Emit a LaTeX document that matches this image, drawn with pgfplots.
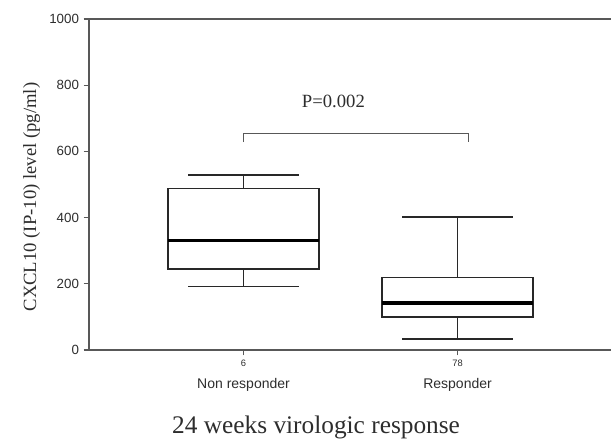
\documentclass[border=0pt]{standalone}
\usepackage{fontspec}
\setmainfont{Liberation Serif}
\setsansfont{Liberation Sans}
\usepackage{pgfplots}
\pgfplotsset{compat=1.18}
\definecolor{axisgray}{RGB}{88,88,88}
\definecolor{txtgray}{RGB}{45,45,45}
\definecolor{boxline}{RGB}{40,40,40}

\begin{document}
\begin{tikzpicture}
\begin{axis}[
  name=ax,
  scale only axis,
  width=391.5pt, height=248.25pt,
  xmin=0.278, xmax=2.717,
  ymin=0, ymax=1000,
  axis x line=box, axis y line=left,
  axis line style={-, draw=axisgray, line width=1.3pt},
  ytick={0,200,400,600,800,1000},
  yticklabels={0,200,400,600,800,1000},
  xtick={1,2}, xticklabels={6,78},
  xtick pos=left, ytick pos=left,
  tick align=outside,
  major tick length=4pt,
  tick style={draw=axisgray, line width=1pt},
  yticklabel style={font=\sffamily\fontsize{10}{12}\selectfont, text=txtgray},
  xticklabel style={font=\sffamily\fontsize{7}{8}\selectfont, text=txtgray},
  ylabel={CXCL10 (IP-10) level (pg/ml)},
  ylabel style={at={(ticklabel cs:0.462)}, font=\fontsize{14}{16}\selectfont, text=txtgray},
  clip=false,
  boxs/.style={draw=boxline, line width=0.9pt, line cap=rect, line join=miter, mark=none},
  med/.style={draw=black, line width=2.4pt, mark=none},
]
% Non responder: whiskers 193 / 529, quartiles 245 / 489, median 332
\addplot[boxs] coordinates {(0.647,245) (1.353,245) (1.353,489) (0.647,489) (0.647,245)};
\addplot[boxs] coordinates {(1,489) (1,529)};
\addplot[boxs] coordinates {(0.745,529) (1.255,529)};
\addplot[boxs] coordinates {(1,245) (1,193)};
\addplot[boxs] coordinates {(0.745,193) (1.255,193)};
\addplot[med] coordinates {(0.647,332) (1.353,332)};
% Responder: whiskers 33 / 402, quartiles 100 / 218, median 142
\addplot[boxs] coordinates {(1.647,100) (2.353,100) (2.353,218) (1.647,218) (1.647,100)};
\addplot[boxs] coordinates {(2,218) (2,402)};
\addplot[boxs] coordinates {(1.745,402) (2.255,402)};
\addplot[boxs] coordinates {(2,100) (2,33)};
\addplot[boxs] coordinates {(1.745,33) (2.255,33)};
\addplot[med] coordinates {(1.647,142) (2.353,142)};
% significance bracket
\addplot[draw=axisgray, line width=1pt, mark=none] coordinates {(1,628) (1,655) (2.05,655) (2.05,628)};

\node[font=\fontsize{14}{16}\selectfont, text=txtgray] at (axis cs:1.42,752) {P=0.002};
\node[font=\sffamily\fontsize{10.5}{12}\selectfont, text=txtgray, yshift=-26pt] at (axis cs:1,0) {Non responder};
\node[font=\sffamily\fontsize{10.5}{12}\selectfont, text=txtgray, yshift=-26pt] at (axis cs:2,0) {Responder};
\node[font=\fontsize{19}{21}\selectfont, text=txtgray, yshift=-58pt] at (axis cs:1.339,0) {24 weeks virologic response};
\end{axis}
\pgfresetboundingbox
\path ([shift={(-66.75pt,-69.75pt)}]ax.south west) rectangle ([shift={(0pt,14.25pt)}]ax.north east);
\end{tikzpicture}
\end{document}
